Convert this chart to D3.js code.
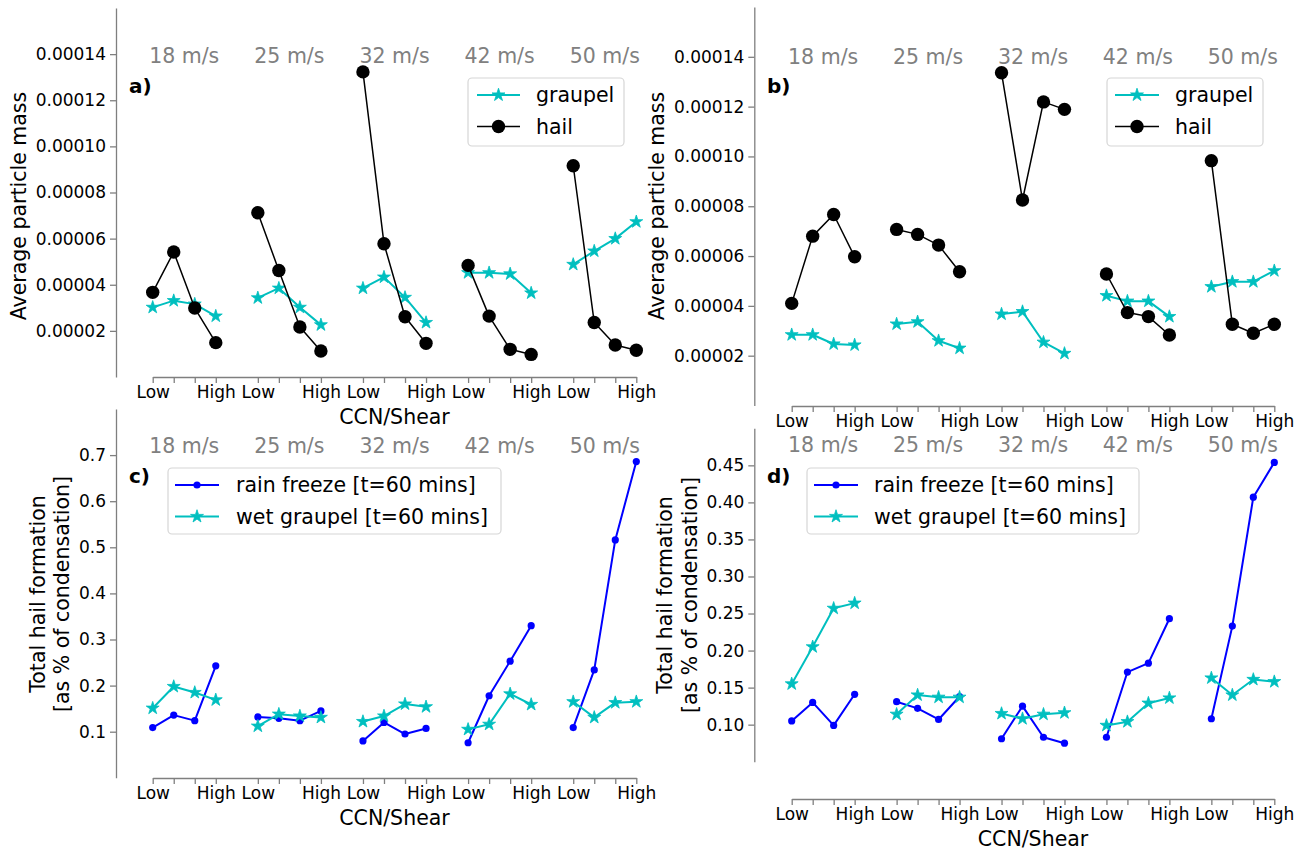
<!DOCTYPE html>
<html>
<head>
<meta charset="utf-8">
<script src="https://cdn.jsdelivr.net/npm/d3@7"></script>
<style>
  html, body { margin: 0; padding: 0; background: #fff; }
  svg { display: block; font-family: "DejaVu Sans", sans-serif; }
</style>
</head>
<body>
<svg id="chart" width="1306" height="850"></svg>
<script>
// ---------------- data ----------------
const speeds = ["18 m/s", "25 m/s", "32 m/s", "42 m/s", "50 m/s"];
const ccnLabels = ["Low", "", "", "High"];

// panel a: average particle mass
const graupelA = [
  [3.02e-5, 3.31e-5, 3.16e-5, 2.64e-5],
  [3.43e-5, 3.85e-5, 3.02e-5, 2.26e-5],
  [3.85e-5, 4.33e-5, 3.45e-5, 2.36e-5],
  [4.52e-5, 4.52e-5, 4.47e-5, 3.64e-5],
  [4.88e-5, 5.46e-5, 6.00e-5, 6.73e-5]
];
const hailA = [
  [3.67e-5, 5.42e-5, 2.99e-5, 1.49e-5],
  [7.12e-5, 4.62e-5, 2.17e-5, 1.13e-5],
  [13.23e-5, 5.78e-5, 2.61e-5, 1.46e-5],
  [4.84e-5, 2.64e-5, 1.20e-5, 0.98e-5],
  [9.16e-5, 2.36e-5, 1.39e-5, 1.16e-5]
];
// panel b
const graupelB = [
  [2.84e-5, 2.84e-5, 2.47e-5, 2.43e-5],
  [3.27e-5, 3.36e-5, 2.60e-5, 2.30e-5],
  [3.67e-5, 3.77e-5, 2.54e-5, 2.09e-5],
  [4.41e-5, 4.19e-5, 4.19e-5, 3.57e-5],
  [4.77e-5, 4.97e-5, 4.97e-5, 5.41e-5]
];
const hailB = [
  [4.10e-5, 6.80e-5, 7.67e-5, 5.97e-5],
  [7.07e-5, 6.87e-5, 6.44e-5, 5.37e-5],
  [13.36e-5, 8.25e-5, 12.19e-5, 11.89e-5],
  [5.28e-5, 3.73e-5, 3.57e-5, 2.83e-5],
  [9.83e-5, 3.26e-5, 2.90e-5, 3.26e-5]
];
// panel c: total hail formation
const rainC = [
  [0.109, 0.136, 0.124, 0.243],
  [0.132, 0.129, 0.124, 0.145],
  [0.080, 0.120, 0.095, 0.107],
  [0.076, 0.178, 0.253, 0.330],
  [0.109, 0.234, 0.516, 0.686]
];
const wetC = [
  [0.151, 0.198, 0.185, 0.169],
  [0.112, 0.138, 0.134, 0.131],
  [0.122, 0.134, 0.160, 0.154],
  [0.105, 0.116, 0.182, 0.159],
  [0.165, 0.131, 0.163, 0.165]
];
// panel d
const rainD = [
  [0.105, 0.130, 0.099, 0.141],
  [0.131, 0.122, 0.107, 0.138],
  [0.081, 0.125, 0.083, 0.075],
  [0.083, 0.171, 0.183, 0.243],
  [0.108, 0.233, 0.407, 0.454]
];
const wetD = [
  [0.155, 0.205, 0.257, 0.264],
  [0.114, 0.140, 0.137, 0.137],
  [0.115, 0.108, 0.114, 0.116],
  [0.099, 0.104, 0.129, 0.136],
  [0.163, 0.140, 0.161, 0.158]
];

const yTicksMass = [0.00002, 0.00004, 0.00006, 0.00008, 0.00010, 0.00012, 0.00014];
const yTicksC = [0.1, 0.2, 0.3, 0.4, 0.5, 0.6, 0.7];
const yTicksD = [0.10, 0.15, 0.20, 0.25, 0.30, 0.35, 0.40, 0.45];

const legendMass = ["graupel", "hail"];
const legendHail = ["rain freeze [t=60 mins]", "wet graupel [t=60 mins]"];

// ---------------- styles ----------------
const CYAN = "#00bfbf", BLUE = "#0000ff", BLACK = "#000000";
const SPINE = "#7f7f7f";
const styles = {
  graupel: { color: CYAN, lw: 2, marker: "star", size: 6.8 },
  hail: { color: BLACK, lw: 1.5, marker: "circle", size: 6.7 },
  rain: { color: BLUE, lw: 2, marker: "circle", size: 3.6 },
  wet: { color: CYAN, lw: 2, marker: "star", size: 6.8 }
};

// ---------------- layout ----------------
const panels = [
  { letter: "a)", spineX: 116, x0: 152.7, x1: 636.3, yTop: 8, yBot: 377, xAxisY: 377,
    ylim: [0, 0.00016], yticks: yTicksMass, fmt: d3.format(".5f"),
    ylabel: ["Average particle mass"], ylabelX: [19], ylabelY: 206,
    xlabel: "CCN/Shear", xlabelY: 417, speedY: 56, letterX: 129, letterY: 86,
    legend: { x: 468, y: 78, w: 156, h: 68, hx0: 477, hx1: 520, tx: 536, labels: legendMass },
    series: [ { data: graupelA, st: styles.graupel }, { data: hailA, st: styles.hail } ] },
  { letter: "b)", spineX: 754.3, x0: 791.7, x1: 1274.3, yTop: 7, yBot: 405.5, xAxisY: 406,
    ylim: [0, 0.00016], yticks: yTicksMass, fmt: d3.format(".5f"),
    ylabel: ["Average particle mass"], ylabelX: [657], ylabelY: 206,
    xlabel: null, speedY: 57, letterX: 767, letterY: 86,
    legend: { x: 1107, y: 78, w: 156, h: 68, hx0: 1115, hx1: 1159, tx: 1175, labels: legendMass },
    series: [ { data: graupelB, st: styles.graupel }, { data: hailB, st: styles.hail } ] },
  { letter: "c)", spineX: 116, x0: 152.7, x1: 636.3, yTop: 409, yBot: 777.8, xAxisY: 778,
    ylim: [0, 0.8], yticks: yTicksC, fmt: d3.format(".1f"),
    ylabel: ["Total hail formation", "[as % of condensation]"], ylabelX: [38, 62], ylabelY: 594,
    xlabel: "CCN/Shear", xlabelY: 818, speedY: 446, letterX: 129, letterY: 476,
    legend: { x: 168, y: 468, w: 333, h: 66, hx0: 175, hx1: 219, tx: 236, labels: legendHail },
    series: [ { data: rainC, st: styles.rain }, { data: wetC, st: styles.wet } ] },
  { letter: "d)", spineX: 754.3, x0: 791.7, x1: 1274.3, yTop: 428.3, yBot: 761.7, xAxisY: 799,
    ylim: [0.05, 0.5], yticks: yTicksD, fmt: d3.format(".2f"),
    ylabel: ["Total hail formation", "[as % of condensation]"], ylabelX: [664.5, 689.5], ylabelY: 595,
    xlabel: "CCN/Shear", xlabelY: 839, speedY: 445, letterX: 767, letterY: 476,
    legend: { x: 807, y: 468, w: 332, h: 66, hx0: 814, hx1: 858, tx: 874, labels: legendHail },
    series: [ { data: rainD, st: styles.rain }, { data: wetD, st: styles.wet } ] }
];

const svg = d3.select("#chart");

function starPath(R) {
  const r = R * 0.381966;
  const pts = [];
  for (let i = 0; i < 10; i++) {
    const ang = -Math.PI / 2 + i * Math.PI / 5;
    const rad = i % 2 === 0 ? R : r;
    pts.push([rad * Math.cos(ang), rad * Math.sin(ang)]);
  }
  return "M" + pts.map(p => p[0].toFixed(2) + "," + p[1].toFixed(2)).join("L") + "Z";
}

function drawMarker(g, cx, cy, st) {
  if (st.marker === "star") {
    g.append("path").attr("d", starPath(st.size))
      .attr("transform", `translate(${cx},${cy})`)
      .attr("fill", st.color).attr("stroke", st.color).attr("stroke-width", 0.8);
  } else {
    g.append("circle").attr("cx", cx).attr("cy", cy).attr("r", st.size)
      .attr("fill", st.color);
  }
}

// x positions: 4 per group with a gap of one slot between groups
const xIndex = [];
speeds.forEach((s, gi) => ccnLabels.forEach((c, ci) => xIndex.push(gi * 5 + ci)));

panels.forEach(p => {
  const x = d3.scaleLinear().domain([0, 23]).range([p.x0, p.x1]);
  const y = d3.scaleLinear().domain(p.ylim).range([p.yBot, p.yTop]);
  const g = svg.append("g");

  // y axis
  const yAxis = d3.axisLeft(y).tickValues(p.yticks).tickFormat(p.fmt).tickSize(6).tickPadding(4).tickSizeOuter(0);
  const ya = g.append("g").attr("transform", `translate(${p.spineX},0)`).call(yAxis);
  ya.select(".domain").attr("stroke", SPINE).attr("stroke-width", 1.3);
  ya.selectAll(".tick line").attr("stroke", SPINE).attr("stroke-width", 1.3);
  ya.selectAll(".tick text").attr("font-size", 17).attr("fill", "#000").attr("font-family", "DejaVu Sans");

  // x axis
  const xAxis = d3.axisBottom(x).tickValues(xIndex)
    .tickFormat((d, i) => ccnLabels[i % 4]).tickSize(6).tickPadding(3).tickSizeOuter(0);
  const xa = g.append("g").attr("transform", `translate(0,${p.xAxisY})`).call(xAxis);
  xa.select(".domain").attr("stroke", SPINE).attr("stroke-width", 1.3);
  xa.selectAll(".tick line").attr("stroke", SPINE).attr("stroke-width", 1.3);
  xa.selectAll(".tick text").attr("font-size", 17).attr("fill", "#000").attr("font-family", "DejaVu Sans");

  // y label
  p.ylabel.forEach((t, i) => {
    g.append("text").attr("transform", `translate(${p.ylabelX[i]},${p.ylabelY}) rotate(-90)`)
      .attr("text-anchor", "middle").attr("dominant-baseline", "central")
      .attr("font-size", 20.5).attr("fill", "#000").text(t);
  });
  // x label
  if (p.xlabel) {
    g.append("text").attr("x", (p.x0 + p.x1) / 2).attr("y", p.xlabelY)
      .attr("text-anchor", "middle").attr("dominant-baseline", "central")
      .attr("font-size", 20.5).attr("fill", "#000").text(p.xlabel);
  }
  // speed labels
  speeds.forEach((s, gi) => {
    g.append("text").attr("x", x(gi * 5 + 1.5)).attr("y", p.speedY)
      .attr("text-anchor", "middle").attr("dominant-baseline", "central")
      .attr("font-size", 20.5).attr("fill", "#808080").text(s);
  });
  // panel letter
  g.append("text").attr("x", p.letterX).attr("y", p.letterY)
    .attr("dominant-baseline", "central").attr("font-weight", "bold")
    .attr("font-size", 20).attr("fill", "#000").text(p.letter);

  // series
  const line = d3.line().x(d => x(d[0])).y(d => y(d[1]));
  p.series.forEach(s => {
    const sg = g.append("g");
    s.data.forEach((grp, gi) => {
      const pts = grp.map((v, ci) => [gi * 5 + ci, v]);
      sg.append("path").attr("d", line(pts)).attr("fill", "none")
        .attr("stroke", s.st.color).attr("stroke-width", s.st.lw).attr("stroke-linejoin", "round");
      pts.forEach(pt => drawMarker(sg, x(pt[0]), y(pt[1]), s.st));
    });
  });

  // legend
  const L = p.legend;
  const lg = g.append("g");
  lg.append("rect").attr("x", L.x).attr("y", L.y).attr("width", L.w).attr("height", L.h)
    .attr("rx", 4).attr("fill", "#fff").attr("fill-opacity", 0.8)
    .attr("stroke", "#d6d6d6").attr("stroke-width", 1.2);
  L.labels.forEach((lab, i) => {
    const cy = L.y + 17 + i * 31.5;
    const st = p.series[i].st;
    lg.append("line").attr("x1", L.hx0).attr("x2", L.hx1).attr("y1", cy).attr("y2", cy)
      .attr("stroke", st.color).attr("stroke-width", st.lw);
    drawMarker(lg, (L.hx0 + L.hx1) / 2, cy, st);
    lg.append("text").attr("x", L.tx).attr("y", cy).attr("dominant-baseline", "central")
      .attr("font-size", 20.5).attr("fill", "#000").text(lab);
  });
});
</script>
</body>
</html>
